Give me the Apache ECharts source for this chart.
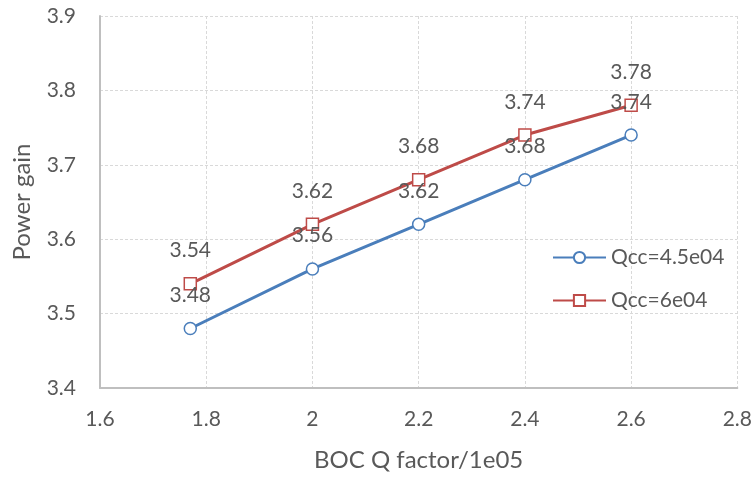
<!DOCTYPE html>
<html>
<head>
<meta charset="utf-8">
<script src="https://cdn.jsdelivr.net/npm/echarts@6/dist/echarts.min.js"></script>
<style>
html,body{margin:0;padding:0;background:#fff;}
#chart{width:755px;height:477px;}
</style>
</head>
<body>
<div id="chart"></div>
<script>
// BOC Q factor (x1e05) against power gain for two Qcc values
const qFactor = [1.77, 2.0, 2.2, 2.4, 2.6];
const gainQcc45 = [3.48, 3.56, 3.62, 3.68, 3.74];
const gainQcc60 = [3.54, 3.62, 3.68, 3.74, 3.78];
const seriesNames = ['Qcc=4.5e04', 'Qcc=6e04'];

const textColor = '#595959';
const fontFamily = 'Lato, "Open Sans", sans-serif';
const blue = '#4a7ebb';
const red = '#be4b48';

function pairs(xs, ys) {
  return xs.map((x, i) => [x, ys[i]]);
}

const valueLabel = {
  show: true, position: 'top', distance: 16,
  color: textColor, fontSize: 21, fontFamily: fontFamily,
  formatter: p => p.value[1].toFixed(2)
};

const chart = echarts.init(document.getElementById('chart'));
chart.setOption({
  animation: false,
  textStyle: { fontFamily: fontFamily },
  grid: { left: 100, right: 17, top: 16, bottom: 87 },
  xAxis: {
    type: 'value', min: 1.6, max: 2.8, interval: 0.2,
    name: 'BOC Q factor/1e05', nameLocation: 'middle', nameGap: 60,
    nameTextStyle: { color: textColor, fontSize: 24, fontFamily: fontFamily },
    axisLine: { show: true, lineStyle: { color: '#bfbfbf', width: 2 } },
    axisTick: { show: false },
    axisLabel: { color: textColor, fontSize: 21, margin: 21,
      formatter: v => String(Math.round(v * 10) / 10) },
    splitLine: { show: true, lineStyle: { color: '#d9d9d9', type: [3, 2] } }
  },
  yAxis: {
    type: 'value', min: 3.4, max: 3.9, interval: 0.1,
    name: 'Power gain', nameLocation: 'middle', nameGap: 66,
    nameTextStyle: { color: textColor, fontSize: 24, fontFamily: fontFamily },
    axisLine: { show: true, lineStyle: { color: '#bfbfbf', width: 2 } },
    axisTick: { show: false },
    axisLabel: { color: textColor, fontSize: 21, margin: 24,
      formatter: v => (Math.round(v * 10) / 10).toFixed(1) },
    splitLine: { show: true, lineStyle: { color: '#d9d9d9', type: [3, 2] } }
  },
  legend: {
    orient: 'vertical', left: 547, top: 242, itemGap: 22,
    itemWidth: 53, itemHeight: 14,
    textStyle: { color: textColor, fontSize: 21, fontFamily: fontFamily },
    data: seriesNames
  },
  series: [
    {
      name: seriesNames[0], type: 'line', data: pairs(qFactor, gainQcc45),
      symbol: 'circle', symbolSize: 12,
      lineStyle: { color: blue, width: 3 },
      itemStyle: { color: '#ffffff', borderColor: blue, borderWidth: 1.5 },
      label: valueLabel
    },
    {
      name: seriesNames[1], type: 'line', data: pairs(qFactor, gainQcc60),
      symbol: 'rect', symbolSize: 12,
      lineStyle: { color: red, width: 3 },
      itemStyle: { color: '#ffffff', borderColor: red, borderWidth: 1.5 },
      label: valueLabel
    }
  ]
});
</script>
</body>
</html>
